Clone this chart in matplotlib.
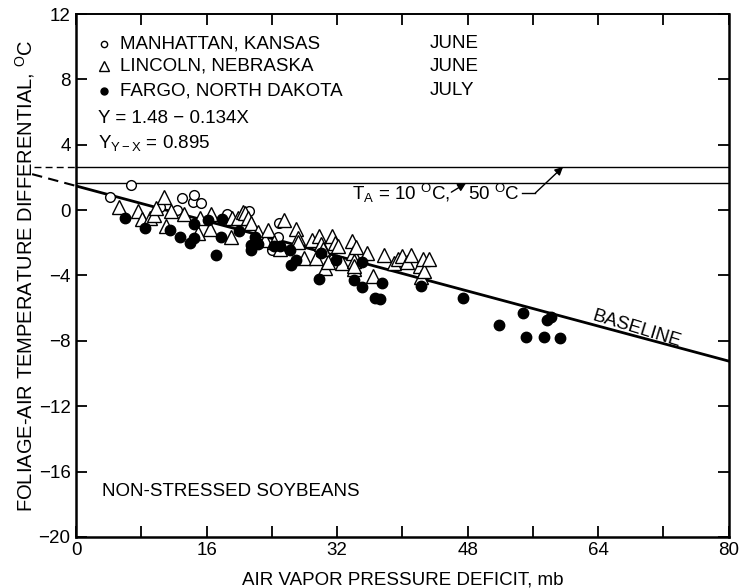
import matplotlib
matplotlib.use('Agg')
import matplotlib.pyplot as plt
import numpy as np

plt.rcParams['font.family'] = ['Liberation Sans', 'DejaVu Sans']
plt.rcParams['mathtext.fontset'] = 'custom'
plt.rcParams['mathtext.rm'] = 'Liberation Sans'
plt.rcParams['mathtext.it'] = 'Liberation Sans'

# Manhattan, Kansas (June) - open circles
man_x = [4.1, 6.7, 10.3, 12.4, 12.95, 14.3, 14.5, 15.3, 18.5, 20.0, 20.7, 21.2,
         24.7, 24.0, 24.9, 25.0]
man_y = [0.80, 1.53, 0.21, -0.02, 0.73, 0.51, 0.92, 0.45, -0.26, -0.67, -0.12, -0.08,
         -1.63, -2.45, -0.81, -2.5]

# Lincoln, Nebraska (June) - open triangles
lin_x = [5.2, 7.6, 8.1, 9.1, 9.6, 9.8, 10.8, 11.0, 11.6, 13.2, 14.9, 15.2, 16.4, 16.5,
         19.0, 19.1, 19.8, 20.4, 20.7, 21.1, 21.4, 22.3, 23.1, 23.5, 24.2, 25.0, 25.5,
         26.9, 27.2, 27.2, 27.9, 28.9, 29.4, 29.8, 30.0, 30.3, 30.5, 30.9, 31.4, 31.7,
         32.1, 32.6, 33.8, 34.0, 34.1, 34.1, 34.1, 34.3, 35.7, 36.4, 37.7, 39.0, 39.5,
         39.9, 40.6, 41.1, 42.2, 42.3, 42.5, 42.6, 43.3]
lin_y = [0.18, -0.04, -0.57, -0.47, -0.31, 0.15, 0.80, -0.98, -0.06, -0.22, -1.38, -0.47,
         -1.14, -0.22, -1.63, -0.47, -0.47, -0.12, -0.16, -0.47, -0.81, -1.32, -1.84, -1.22,
         -1.94, -2.4, -0.61, -1.14, -1.69, -1.95, -2.96, -1.84, -2.92, -1.59, -2.1, -2.37,
         -3.53, -3.18, -1.59, -2.0, -2.2, -3.22, -1.9, -2.65, -3.12, -3.59, -3.4, -2.27,
         -2.61, -4.04, -2.77, -3.22, -3.02, -2.82, -3.18, -2.77, -3.39, -4.08, -3.02,
         -3.74, -3.02]

# Fargo, North Dakota (July) - filled circles
far_x = [6.0, 8.4, 11.5, 12.7, 14.0, 14.4, 14.5, 16.2, 17.1, 17.8, 17.9, 20.0, 21.4,
         21.5, 21.9, 22.3, 24.2, 25.0, 26.2, 26.3, 27.0, 29.8, 30.0, 31.9, 34.1, 35.0,
         35.1, 36.6, 37.3, 37.5, 42.3, 47.4, 51.8, 54.8, 55.2, 57.4, 57.7, 58.2, 59.3]
far_y = [-0.47, -1.08, -1.22, -1.65, -2.0, -0.86, -1.69, -0.61, -2.73, -1.65, -0.53, -1.29,
         -2.16, -2.45, -1.63, -2.1, -2.2, -2.2, -2.45, -3.33, -3.06, -4.2, -2.61, -3.06,
         -4.29, -3.18, -4.69, -5.39, -5.43, -4.45, -4.65, -5.35, -7.06, -6.28, -7.75,
         -7.75, -6.75, -6.55, -7.81]

intercept = 1.48
slope = -0.134
upper_limit = 2.65   # T_A = 50 C
lower_limit = 1.65   # T_A = 10 C

x_ticks = [0, 8, 16, 24, 32, 40, 48, 56, 64, 72, 80]
x_labels = ['0', '', '16', '', '32', '', '48', '', '64', '', '80']
y_ticks = [-20, -16, -12, -8, -4, 0, 4, 8, 12]

fig = plt.figure(figsize=(7.39, 5.88), dpi=100)
ax = fig.add_axes([0.103, 0.087, 0.883, 0.889])

# baseline
xb = np.array([0, 80])
ax.plot(xb, intercept + slope * xb, color='black', lw=2.0, zorder=3)
xd = np.array([-5.4, 0])
ax.plot(xd, intercept + slope * xd, color='black', lw=1.5, ls=(0, (5, 3)), clip_on=False)

# upper / lower limits
ax.plot([0, 80], [upper_limit, upper_limit], color='black', lw=1.0)
ax.plot([-5.2, 0], [upper_limit, upper_limit], color='black', lw=1.0, ls=(0, (5, 3)), clip_on=False)
ax.plot([0, 80], [lower_limit, lower_limit], color='black', lw=1.0)

ax.plot(man_x, man_y, 'o', ms=7, mfc='white', mec='black', mew=1.0, zorder=4)
ax.plot(lin_x, lin_y, '^', ms=9.5, mfc='white', mec='black', mew=1.0, zorder=4)
ax.plot(far_x, far_y, 'o', ms=7.5, mfc='black', mec='black', zorder=4)

ax.set_xlim(0, 80)
ax.set_ylim(-20, 12)
ax.set_xticks(x_ticks)
ax.set_xticklabels(x_labels)
ax.set_yticks(y_ticks)
ax.tick_params(direction='in', length=8, width=1.3, labelsize=13.5, top=True, right=True,
               pad=4)
for s in ax.spines.values():
    s.set_linewidth(1.8)
ax.spines['top'].set_linewidth(1.4)

ax.set_xlabel('AIR VAPOR PRESSURE DEFICIT, mb', fontsize=13.5, labelpad=9)
ax.set_ylabel('FOLIAGE-AIR TEMPERATURE DIFFERENTIAL, $^{\\rm O}$C', fontsize=14.5, labelpad=1)

# legend block
fs = 13.5
ax.plot([3.4], [10.2], 'o', ms=4.5, mfc='white', mec='black', mew=1.0)
ax.plot([3.4], [8.8], '^', ms=6.5, mfc='white', mec='black', mew=1.0)
ax.plot([3.4], [7.3], 'o', ms=5, mfc='black', mec='black')
ax.text(5.4, 10.2, 'MANHATTAN, KANSAS', fontsize=fs, va='center')
ax.text(5.4, 8.8, 'LINCOLN, NEBRASKA', fontsize=fs, va='center')
ax.text(5.4, 7.3, 'FARGO, NORTH DAKOTA', fontsize=fs, va='center')
ax.text(43.4, 10.2, 'JUNE', fontsize=fs, va='center')
ax.text(43.4, 8.8, 'JUNE', fontsize=fs, va='center')
ax.text(43.4, 7.3, 'JULY', fontsize=fs, va='center')
ax.text(2.7, 5.6, 'Y = 1.48 \u2212 0.134X', fontsize=fs, va='center')
ax.text(2.7, 4.1, 'Y$_{\\rm Y-X}$ = 0.895', fontsize=fs, va='center')

ax.text(3.2, -17.2, 'NON-STRESSED SOYBEANS', fontsize=fs, va='center')

# T_A annotation
ax.text(33.8, 1.0, 'T$_{\\rm A}$ = 10 $^{\\rm O}$C,', fontsize=fs, va='center')
ax.annotate('', xy=(47.8, lower_limit), xytext=(46.0, 1.1),
            arrowprops=dict(arrowstyle='-|>', color='black', lw=1.0, mutation_scale=12,
                            shrinkA=0, shrinkB=0))
ax.text(48.0, 1.0, '50 $^{\\rm O}$C', fontsize=fs, va='center')
ax.plot([54.7, 56.3], [1.05, 1.05], color='black', lw=1.0)
ax.annotate('', xy=(59.7, upper_limit), xytext=(56.3, 1.05),
            arrowprops=dict(arrowstyle='-|>', color='black', lw=1.0, mutation_scale=12,
                            shrinkA=0, shrinkB=0))

ax.text(68.7, -7.3, 'BASELINE', fontsize=fs, rotation=-17, ha='center', va='center',
        rotation_mode='anchor')

fig.savefig('out.png', dpi=100)
